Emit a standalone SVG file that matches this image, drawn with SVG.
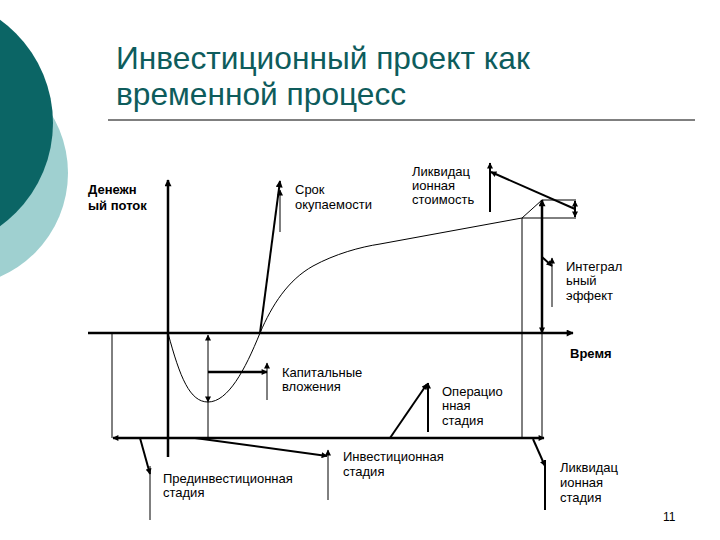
<svg xmlns="http://www.w3.org/2000/svg" width="720" height="540" viewBox="0 0 720 540">
<style>
.t{font-family:"Liberation Sans",Arial,sans-serif;font-size:13px;fill:#000}
.b{font-family:"Liberation Sans",Arial,sans-serif;font-size:13px;font-weight:bold;fill:#000}
.title{font-family:"Liberation Sans",Arial,sans-serif;font-size:31.7px;fill:#0e5c5c}
.thick{stroke:#000;stroke-width:2.5;fill:none}
.mid{stroke:#000;stroke-width:2;fill:none}
.thin{stroke:#000;stroke-width:1;fill:none}
</style>
<defs>
<marker id="ah" viewBox="0 0 10 10" refX="9" refY="5" markerWidth="9" markerHeight="7" markerUnits="userSpaceOnUse" orient="auto-start-reverse">
<path d="M0,0 L10,5 L0,10 z" fill="#000"/>
</marker>
<marker id="as" viewBox="0 0 10 10" refX="9" refY="5" markerWidth="7" markerHeight="6" markerUnits="userSpaceOnUse" orient="auto-start-reverse">
<path d="M0,0 L10,5 L0,10 z" fill="#000"/>
</marker>
</defs>
<rect width="720" height="540" fill="#fff"/>
<g id="decor">
<circle cx="-45" cy="173" r="113" fill="#9fd0d0"/>
<circle cx="-74" cy="123" r="127" fill="#0b6565"/>
</g>
<g id="title">
<text class="title" x="116" y="69">Инвестиционный проект как</text>
<text class="title" x="116" y="105">временной процесс</text>
<line x1="108" y1="120" x2="695" y2="120" stroke="#000" stroke-width="1"/>
</g>
<g id="connectors">
<line class="thick" x1="168" y1="457" x2="168" y2="180" marker-end="url(#ah)"/>
<line class="thick" x1="88" y1="333" x2="573" y2="333" marker-end="url(#ah)"/>
<path class="thin" d="M168,333 C180,378 190,402 208,402 C228,402 245,370 260,333 C272,305 288,280 313,266 C335,254 360,247 380,244 L522,218 L542,200"/>
<line class="thin" x1="542" y1="200" x2="576" y2="200"/>
<line class="thin" x1="522" y1="218" x2="576" y2="218"/>
<line class="mid" x1="575" y1="201" x2="575" y2="217" marker-start="url(#as)" marker-end="url(#as)"/>
<line class="thick" x1="542" y1="200" x2="542" y2="333" marker-start="url(#ah)" marker-end="url(#as)"/>
<line class="thin" x1="522" y1="218" x2="522" y2="438"/>
<line class="thin" x1="542" y1="333" x2="542" y2="438"/>
<line class="mid" x1="542" y1="257" x2="552" y2="266" marker-end="url(#as)"/>
<line class="thin" x1="552" y1="307" x2="552" y2="258" marker-end="url(#as)"/>
<line class="thick" x1="113" y1="438" x2="544" y2="438" marker-start="url(#as)" marker-end="url(#as)"/>
<line class="thin" x1="112" y1="333" x2="112" y2="438"/>
<line class="thin" x1="208" y1="402" x2="208" y2="438"/>
<line class="thin" x1="208" y1="335" x2="208" y2="402" marker-start="url(#as)" marker-end="url(#as)"/>
<line class="thick" x1="208" y1="372" x2="267" y2="372" marker-end="url(#as)"/>
<line class="thin" x1="267" y1="400" x2="267" y2="363" marker-end="url(#as)"/>
<line class="mid" x1="260" y1="333" x2="280" y2="181" marker-end="url(#ah)"/>
<line class="thin" x1="280" y1="232" x2="280" y2="190" marker-end="url(#as)"/>
<line class="mid" x1="575" y1="209" x2="491" y2="172" marker-end="url(#as)"/>
<line class="mid" x1="490" y1="212" x2="490" y2="163" marker-end="url(#as)"/>
<line class="mid" x1="140" y1="438" x2="150" y2="474" marker-end="url(#as)"/>
<line class="thin" x1="150" y1="466" x2="150" y2="520"/>
<line class="mid" x1="195" y1="438" x2="327" y2="456" marker-end="url(#as)"/>
<line class="thin" x1="328" y1="500" x2="328" y2="450" marker-end="url(#as)"/>
<line class="mid" x1="390" y1="438" x2="427" y2="384" marker-end="url(#as)"/>
<line class="mid" x1="428" y1="432" x2="428" y2="383" marker-end="url(#as)"/>
<line class="mid" x1="533" y1="439" x2="545" y2="466" marker-end="url(#as)"/>
<line class="mid" x1="545" y1="460" x2="545" y2="510"/>
</g>
<g id="node-cashflow"><text class="b" x="88" y="194">Денежн</text><text class="b" x="88" y="210">ый поток</text></g>
<g id="node-payback"><text class="t" x="295" y="194">Срок</text><text class="t" x="295" y="209">окупаемости</text></g>
<g id="node-liqvalue"><text class="t" x="412" y="176">Ликвидац</text><text class="t" x="412" y="190">ионная</text><text class="t" x="412" y="204">стоимость</text></g>
<g id="node-integral"><text class="t" x="566" y="271">Интеграл</text><text class="t" x="566" y="285">ьный</text><text class="t" x="566" y="300">эффект</text></g>
<g id="node-time"><text class="b" x="570" y="358">Время</text></g>
<g id="node-capital"><text class="t" x="282" y="377">Капитальные</text><text class="t" x="282" y="391">вложения</text></g>
<g id="node-operational"><text class="t" x="442" y="396">Операцио</text><text class="t" x="442" y="410">нная</text><text class="t" x="442" y="425">стадия</text></g>
<g id="node-preinvest"><text class="t" x="163" y="483">Прединвестиционная</text><text class="t" x="163" y="497">стадия</text></g>
<g id="node-invest"><text class="t" x="343" y="461">Инвестиционная</text><text class="t" x="343" y="476">стадия</text></g>
<g id="node-liqstage"><text class="t" x="560" y="472">Ликвидац</text><text class="t" x="560" y="487">ионная</text><text class="t" x="560" y="502">стадия</text></g>
<g id="page"><text class="t" x="663" y="521" style="font-size:12px">11</text></g>
</svg>
